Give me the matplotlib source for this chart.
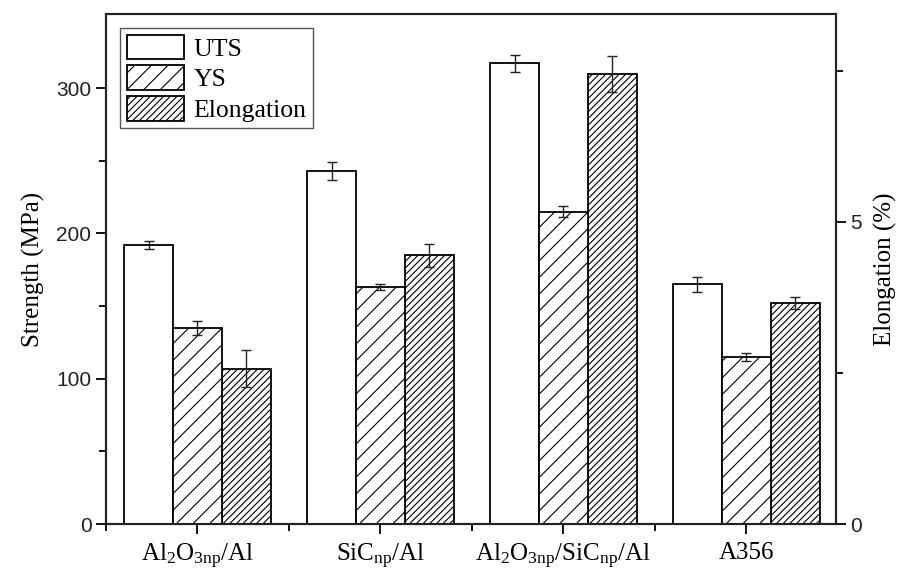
import numpy as np
import matplotlib
matplotlib.use('Agg')
import matplotlib.pyplot as plt

# fuentes tipo Times para textos, Arial para numeros
plt.rcParams['font.family'] = 'Liberation Serif'
plt.rcParams['mathtext.fontset'] = 'custom'
plt.rcParams['mathtext.rm'] = 'Liberation Serif'
plt.rcParams['mathtext.it'] = 'Liberation Serif:italic'
plt.rcParams['hatch.linewidth'] = 0.8

# datos
muestras = [r'Al$_2$O$_{3\mathrm{np}}$/Al', r'SiC$_{\mathrm{np}}$/Al',
            r'Al$_2$O$_{3\mathrm{np}}$/SiC$_{\mathrm{np}}$/Al', 'A356']
uts = [192, 243, 317, 165]
uts_err = [3, 6, 6, 5]
ys = [135, 163, 215, 115]
ys_err = [5, 2, 4, 3]
elong = [2.57, 4.45, 7.45, 3.66]
elong_err = [0.31, 0.19, 0.30, 0.10]

x = np.arange(len(muestras))
w = 0.267

fig = plt.figure(figsize=(9.02, 5.74), dpi=100)
ax = fig.add_axes([0.1175, 0.0871, 0.8093, 0.8885])
ax2 = ax.twinx()

ek = dict(ecolor='#222222', elinewidth=1.0, capsize=3.5, capthick=1.0)
b1 = ax.bar(x - w, uts, w, yerr=uts_err, color='white', edgecolor='black',
            linewidth=1.3, label='UTS', error_kw=ek)
b2 = ax.bar(x, ys, w, yerr=ys_err, color='white', edgecolor='black',
            linewidth=1.3, hatch='//', label='YS', error_kw=ek)
b3 = ax2.bar(x + w, elong, w, yerr=elong_err, color='white', edgecolor='black',
             linewidth=1.3, hatch='/////', label='Elongation', error_kw=ek)

ax.set_xlim(-0.5, 3.49)
ax.set_ylim(0, 351)
ax2.set_ylim(0, 8.44)

ax.set_xticks(x)
ax.set_xticklabels(muestras, fontsize=18)
ax.set_xticks([-0.5, 0.5, 1.5, 2.5], minor=True)
ax.set_yticks([0, 100, 200, 300])
ax.set_yticks([50, 150, 250], minor=True)
ax2.set_yticks([0, 5])
ax2.set_yticks([2.5, 7.5], minor=True)

for a in (ax, ax2):
    for s in a.spines.values():
        s.set_linewidth(1.5)
        s.set_color('#222222')
ax.tick_params(axis='both', which='major', direction='out', length=7, width=1.3)
ax.tick_params(axis='both', which='minor', direction='out', length=5, width=1.3)
ax.tick_params(axis='x', pad=6)
ax2.tick_params(axis='y', which='major', direction='out', length=7, width=1.3)
ax2.tick_params(axis='y', which='minor', direction='out', length=5, width=1.3)
for lab in ax.get_yticklabels() + ax2.get_yticklabels():
    lab.set_family('Liberation Sans')
    lab.set_fontsize(15)
    lab.set_color('#222222')

ax.set_ylabel('Strength (MPa)', fontsize=18, labelpad=8)
ax2.set_ylabel('Elongation (%)', fontsize=18, labelpad=8)

leg = ax.legend([b1, b2, b3], ['UTS', 'YS', 'Elongation'], loc='upper left',
                fontsize=18.5, fancybox=False, framealpha=1, edgecolor='#555555',
                handlelength=2.25, handleheight=1.1, labelspacing=0.18,
                handletextpad=0.35, borderpad=0.25, borderaxespad=0.55)
leg.get_frame().set_linewidth(1.0)
leg.set_zorder(5)
ax2.set_zorder(0)
ax.set_zorder(1)
ax.patch.set_visible(False)

plt.savefig('out.png', dpi=100)
